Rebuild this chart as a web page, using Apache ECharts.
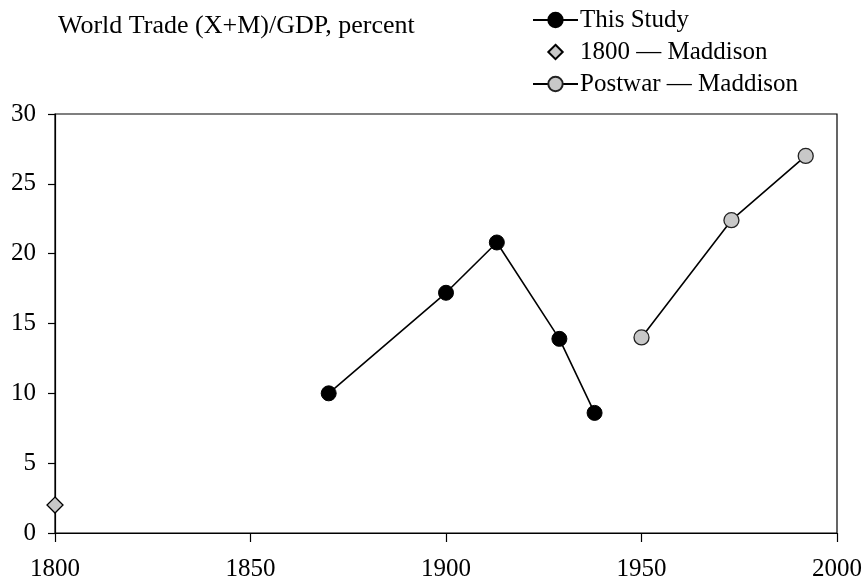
<!DOCTYPE html>
<html>
<head>
<meta charset="utf-8">
<script src="https://cdn.jsdelivr.net/npm/echarts@6/dist/echarts.min.js"></script>
<style>
html,body{margin:0;padding:0;background:#fff;}
#chart{width:866px;height:586px;}
</style>
</head>
<body>
<div id="chart"></div>
<script>
const titleText = 'World Trade (X+M)/GDP, percent';
const seriesNames = ['This Study', '1800 \u2014 Maddison', 'Postwar \u2014 Maddison'];
const studyYears = [1870, 1900, 1913, 1929, 1938];
const studyValues = [10.0, 17.2, 20.8, 13.9, 8.6];
const maddison1800Years = [1800];
const maddison1800Values = [2.0];
const postwarYears = [1950, 1973, 1992];
const postwarValues = [14.0, 22.4, 27.0];
const xTicks = [1800, 1850, 1900, 1950, 2000];
const yTicks = [0, 5, 10, 15, 20, 25, 30];

const FONT = 'Liberation Serif';
const pair = (xs, ys) => xs.map((x, i) => [x, ys[i]]);

const chart = echarts.init(document.getElementById('chart'), null, {renderer: 'canvas'});
chart.setOption({
  animation: false,
  backgroundColor: '#fff',
  title: {
    text: titleText,
    left: 53, top: 8,
    textStyle: {fontFamily: FONT, fontSize: 26, fontWeight: 'normal', color: '#000'}
  },
  legend: {
    orient: 'vertical',
    left: 527, top: 2,
    itemWidth: 45, itemHeight: 18, itemGap: 6,
    data: seriesNames,
    textStyle: {fontFamily: FONT, fontSize: 25, color: '#000', lineHeight: 26, padding: [0,0,0,-3]}
  },
  grid: {
    left: 55, right: 29, top: 114, bottom: 53,
    show: true, borderColor: '#000', borderWidth: 1.2, backgroundColor: 'transparent'
  },
  xAxis: {
    type: 'value',
    min: xTicks[0], max: xTicks[xTicks.length - 1], interval: 50,
    axisLine: {show: true, onZero: false, lineStyle: {color: '#000', width: 1.2}},
    axisTick: {show: true, inside: false, length: 9, lineStyle: {color: '#000', width: 1.2}},
    splitLine: {show: false},
    axisLabel: {fontFamily: FONT, fontSize: 25, color: '#000', margin: 24,
      formatter: v => xTicks.includes(v) ? String(v) : ''}
  },
  yAxis: {
    type: 'value',
    min: yTicks[0], max: yTicks[yTicks.length - 1], interval: 5,
    axisLine: {show: true, lineStyle: {color: '#000', width: 1.2}},
    axisTick: {show: true, inside: false, length: 7, lineStyle: {color: '#000', width: 1.2}},
    splitLine: {show: false},
    axisLabel: {fontFamily: FONT, fontSize: 25, color: '#000', margin: 19,
      formatter: v => yTicks.includes(v) ? String(v) : ''}
  },
  series: [
    {
      name: seriesNames[0], type: 'line', data: pair(studyYears, studyValues),
      symbol: 'circle', symbolSize: 15, clip: false,
      lineStyle: {color: '#000', width: 1.6},
      itemStyle: {color: '#000', borderColor: '#000', borderWidth: 1}
    },
    {
      name: seriesNames[1], type: 'line', data: pair(maddison1800Years, maddison1800Values),
      symbol: 'diamond', symbolSize: 16, clip: false,
      lineStyle: {color: '#000', width: 0, opacity: 0},
      itemStyle: {color: '#c8c8c8', borderColor: '#000', borderWidth: 1.3}
    },
    {
      name: seriesNames[2], type: 'line', data: pair(postwarYears, postwarValues),
      symbol: 'circle', symbolSize: 15, clip: false,
      lineStyle: {color: '#000', width: 1.6},
      itemStyle: {color: '#c8c8c8', borderColor: '#222', borderWidth: 1.3}
    }
  ]
});
</script>
</body>
</html>
